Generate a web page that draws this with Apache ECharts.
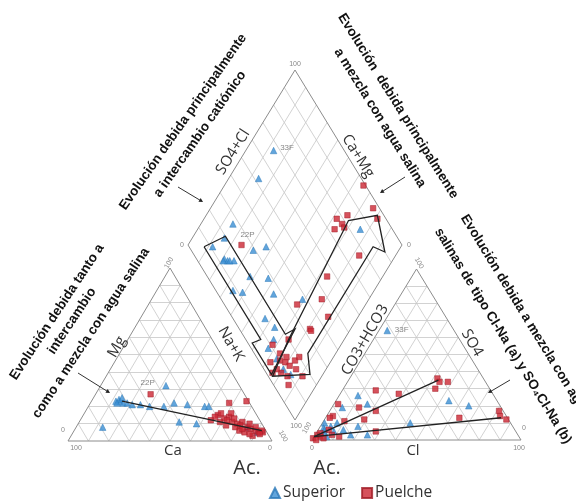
<!DOCTYPE html>
<html><head><meta charset="utf-8">
<script src="https://cdn.jsdelivr.net/npm/echarts@6/dist/echarts.min.js"></script>
<style>html,body{margin:0;padding:0;background:#fff}#c{width:576px;height:501px}</style>
</head><body><div id="c"></div>
<script>
// ---------------- DATA ----------------
const seriesNames = ['Superior', 'Puelche'];
// Cation triangle: [Mg %, Na+K %]  (Ca = 100 - Mg - Na+K)
const cationSuperior = [[32,32],[23,14],[22,16],[22,18],[21,21],[21,25],[20,30],[20,37],[22,41],[21,48],[20,57],[20,59],[11,49],[8,13],[10,58],[5,90],[8,84],[24,13],[25,14],[23,12],[22,13]];
const cationPuelche = [[27,27],[22,68],[23,76],[15,66],[13,70],[14,72],[11,75],[10,78],[11,80],[8,84],[7,86],[6,89],[5,91],[5,93],[3,89],[6,81],[8,78],[9,73],[11,69],[14,65],[10,84],[8,88],[6,92],[5,84],[4,87],[9,80],[16,72],[16,67],[12,64],[12,72],[7,82],[4,92],[13,75]];
// Anion triangle: [SO4 %, Cl %]  (CO3+HCO3 = 100 - SO4 - Cl)
const anionSuperior = [[64,4],[23,54],[20,65],[10,42],[21,16],[26,9],[19,5],[3,25],[10,1],[7,2],[8,5],[5,8],[6,12],[8,18],[10,7],[3,17],[4,4],[2,6],[6,3]];
const anionPuelche = [[36,42],[34,44],[34,48],[30,44],[27,28],[29,16],[19,13],[21,2],[17,22],[13,64],[17,81],[14,83],[12,87],[5,28],[14,3],[1,0],[13,2],[11,10],[12,19],[3,1],[2,3],[2,12],[4,2],[1,5],[3,8],[6,5],[0,2]];
// Diamond: [SO4+Cl %, Ca+Mg %]
const diamondSuperior = [[67,87],[52,86],[27,85],[19,85],[11,88],[13,79],[14,77],[17,74],[29,68],[36,63],[20,62],[85,24],[12,79],[15,76],[8,66],[12,61],[28,53],[26,46],[15,43],[17,36],[38,31],[13,33],[8,33],[9,26],[9,20],[11,15]];
const diamondPuelche = [[25,75],[99,35],[97,24],[96,19],[77,38],[83,34],[78,34],[73,36],[78,32],[77,17],[56,26],[47,22],[34,32],[33,19],[33,18],[45,14],[20,26],[11,32],[10,24],[12,21],[13,18],[17,17],[20,16],[7,20],[9,16],[5,28],[6,23],[3,24],[15,14],[7,13],[16,9],[12,26],[14,22]];
// Labelled samples: [array name, index, label]
const sampleLabels = [['diamondSuperior',0,'33F'],['diamondPuelche',0,'22P'],['cationPuelche',0,'22P'],['anionSuperior',0,'33F']];
// Trend lines (same units as their panel)
const cationTrend = [[23,15],[6,92]];
const anionTrendA = [[2,0],[13,84]];
const anionTrendB = [[2,0],[35,43]];
// Evolution arrows in the diamond: [SO4+Cl %, Ca+Mg %]
const arrowLeft = [[7,92],[20,85],[20,29],[26,26],[2,24],[2,42],[7,39],[7,92]];
const arrowRight = [[20,26],[82,32],[97,20],[90,6],[86,13],[25,13],[20,6],[2,23],[20,26]];
const tickLabels = ['0','100'];

// ---------------- LAYOUT ----------------
const CAT = {a:[68,441], b:[272,441], c:[170,268]};     // Ca, Na+K, Mg corners
const ANI = {a:[312,440], b:[521,440], c:[416.5,269]};  // CO3+HCO3, Cl, SO4 corners
const DIA = {o:[295,420], l:[188,245], r:[402,245]};
function tern(T, top, right){ const left = 100-top-right;
  return [(left*T.a[0]+right*T.b[0]+top*T.c[0])/100, (left*T.a[1]+right*T.b[1]+top*T.c[1])/100]; }
const cat = p => tern(CAT, p[0], p[1]);
const ani = p => tern(ANI, p[0], p[1]);
function dia(p){ const s=p[0]/100, m=p[1]/100;
  return [DIA.o[0]+m*(DIA.l[0]-DIA.o[0])+s*(DIA.r[0]-DIA.o[0]), DIA.o[1]+m*(DIA.l[1]-DIA.o[1])+s*(DIA.r[1]-DIA.o[1])]; }

const gridSegs = [];
function triGrid(T){ for(let k=10;k<100;k+=10){
  gridSegs.push({coords:[tern(T,k,0),tern(T,k,100-k)]});
  gridSegs.push({coords:[tern(T,0,k),tern(T,100-k,k)]});
  gridSegs.push({coords:[tern(T,0,100-k),tern(T,100-k,0)]}); } }
triGrid(CAT); triGrid(ANI);
for(let k=10;k<100;k+=10){
  gridSegs.push({coords:[dia([k,0]),dia([k,100])]});
  gridSegs.push({coords:[dia([0,k]),dia([100,k])]});
}
const outlines = [
  {coords:[tern(CAT,0,0),tern(CAT,0,100),tern(CAT,100,0),tern(CAT,0,0)]},
  {coords:[tern(ANI,0,0),tern(ANI,0,100),tern(ANI,100,0),tern(ANI,0,0)]},
  {coords:[dia([0,0]),dia([100,0]),dia([100,100]),dia([0,100]),dia([0,0])]}
];
const blackLines = [
  {coords:cationTrend.map(cat)},
  {coords:anionTrendA.map(ani)},
  {coords:anionTrendB.map(ani)},
  {coords:arrowLeft.map(dia)},
  {coords:arrowRight.map(dia)}
];
const arrays = {cationSuperior,cationPuelche,anionSuperior,anionPuelche,diamondSuperior,diamondPuelche};
const labelPos = {'diamondSuperior':['right',[-2,-3]],'diamondPuelche':['top',[6,2]],'cationPuelche':['top',[-3,1]],'anionSuperior':['right',[-1,-1]]};
function pts(name, fn){
  return arrays[name].map((p,i)=>{
    const lab = sampleLabels.find(s=>s[0]===name && s[1]===i);
    const item = {value: fn(p)};
    if(lab){ item.label = {show:true, formatter:lab[2], position:labelPos[name][0], offset:labelPos[name][1], fontSize:8, color:'#666', fontFamily:'Liberation Sans'}; }
    return item;
  });
}
const BLUE = '#3b8fd3', RED = '#cc2733';
function scat(name, data, isSup){
  return {type:'scatter', name, data, z:3, symbol: isSup?'triangle':'rect', symbolSize: isSup?6.5:5.5,
    itemStyle:{color: isSup?BLUE:RED, borderColor: isSup?'#2a78b8':'#a01b25', borderWidth:0.6}, label:{show:false}};
}

// text helper
const deg = Math.PI/180;
function T(text, x, y, rot, size, opts){
  opts = opts||{};
  return {type:'text', x, y, rotation:(rot||0)*deg, z:10, silent:true,
    style:{text, fontSize:size, fontFamily:opts.family||'Liberation Sans', fontWeight:opts.bold?'bold':'normal',
      fill:opts.color||'#333', align:'center', verticalAlign:'middle'}};
}
function arrowG(x1,y1,x2,y2){
  const dx=x2-x1, dy=y2-y1, L=Math.hypot(dx,dy), ux=dx/L, uy=dy/L, h=4, w=2.2;
  return [
    {type:'line', z:10, silent:true, shape:{x1,y1,x2:x2-ux*h*0.6,y2:y2-uy*h*0.6}, style:{stroke:'#333', lineWidth:1}},
    {type:'polygon', z:10, silent:true, shape:{points:[[x2,y2],[x2-ux*h-uy*w,y2-uy*h+ux*w],[x2-ux*h+uy*w,y2-uy*h-ux*w]]}, style:{fill:'#222'}}
  ];
}
const tk = {size:7, color:'#888'};
const ann = {bold:true, color:'#111'};
const graphics = [
  // annotations
  T('Evolución debida principalmente', 183, 122, 55, 13.5, ann),
  T('a intercambio catiónico', 200, 134, 55, 13.5, ann),
  T('Evolución  debida principalmente', 398, 106, -58, 13.5, ann),
  T('a mezcla con agua salina', 380, 118, -58, 13.5, ann),
  T('Evolución debida tanto a', 57, 312, 56.5, 13.5, ann),
  T('intercambio', 72, 321, 56.5, 13.5, ann),
  T('como a mezcla con agua salina', 91, 333, 56.5, 13.5, ann),
  T('Evolución debida a mezcla con aguas', 527, 319, -58.5, 13.5, ann),
  T('salinas de tipo Cl-Na (a) y SO₄Cl-Na (b)', 503, 336, -58.5, 13.5, ann),
  // axis labels
  T('Mg', 117, 347, 60, 15, {family:'Open Sans'}),
  T('Na+K', 231, 344, -60, 15, {family:'Open Sans'}),
  T('Ca', 173, 451, 0, 15, {family:'Open Sans'}),
  T('CO3+HCO3', 365, 340, 60, 15, {family:'Open Sans'}),
  T('SO4', 472, 343, -60, 15, {family:'Open Sans'}),
  T('Cl', 413, 451, 0, 15, {family:'Open Sans'}),
  T('SO4+Cl', 233, 152, 58, 15, {family:'Open Sans'}),
  T('Ca+Mg', 358, 156, -58, 15, {family:'Open Sans'}),
  T('Ac.', 247, 468, 0, 20, {family:'Open Sans'}),
  T('Ac.', 327, 468, 0, 20, {family:'Open Sans'}),
  // ticks
  T(tickLabels[1], 169, 263, 60, tk.size, tk), T(tickLabels[0], 63, 430, 0, tk.size, tk),
  T(tickLabels[1], 76, 448, 0, tk.size, tk), T(tickLabels[0], 270, 448, 0, tk.size, tk),
  T(tickLabels[1], 283, 436, -60, tk.size, tk),
  T(tickLabels[1], 295, 64, 0, tk.size, tk), T(tickLabels[0], 182, 245, 0, tk.size, tk),
  T(tickLabels[0], 409, 245, 0, tk.size, tk), T(tickLabels[1], 296, 426, 0, tk.size, tk),
  T(tickLabels[1], 419, 263, -60, tk.size, tk), T(tickLabels[1], 307, 428, 60, tk.size, tk),
  T(tickLabels[0], 312, 448, 0, tk.size, tk), T(tickLabels[1], 519, 448, 0, tk.size, tk),
  T(tickLabels[0], 524, 428, 0, tk.size, tk),
  ...arrowG(78,373,110,393), ...arrowG(178,187,203,202), ...arrowG(405,177,380,193), ...arrowG(510,380,488,393)
];

const chart = echarts.init(document.getElementById('c'), null, {renderer:'canvas'});
chart.setOption({
  animation:false,
  backgroundColor:'#fff',
  grid:{left:0, right:0, top:0, bottom:0},
  xAxis:{type:'value', min:0, max:576, show:false},
  yAxis:{type:'value', min:0, max:501, inverse:true, show:false},
  legend:{left:264, top:480, itemWidth:10, itemHeight:10, itemGap:16,
    textStyle:{fontSize:15.5, fontFamily:'Open Sans', color:'#333', padding:[0,0,0,-2]},
    data:[{name:seriesNames[0], icon:'triangle', itemStyle:{color:BLUE}}, {name:seriesNames[1], icon:'rect', itemStyle:{color:RED}}]},
  series:[
    {type:'lines', coordinateSystem:'cartesian2d', silent:true, z:1, data:gridSegs, lineStyle:{color:'#c6c6c6', width:0.8, opacity:1}},
    {type:'lines', coordinateSystem:'cartesian2d', silent:true, z:2, polyline:true, data:outlines, lineStyle:{color:'#8c8c8c', width:1, opacity:1}},
    scat(seriesNames[0], pts('cationSuperior', cat), true),
    scat(seriesNames[1], pts('cationPuelche', cat), false),
    scat(seriesNames[0], pts('anionSuperior', ani), true),
    scat(seriesNames[1], pts('anionPuelche', ani), false),
    scat(seriesNames[0], pts('diamondSuperior', dia), true),
    scat(seriesNames[1], pts('diamondPuelche', dia), false),
    {type:'lines', coordinateSystem:'cartesian2d', silent:true, z:4, polyline:true, data:blackLines, lineStyle:{color:'#222', width:1.3, opacity:1}}
  ],
  graphic: graphics
});
</script></body></html>
